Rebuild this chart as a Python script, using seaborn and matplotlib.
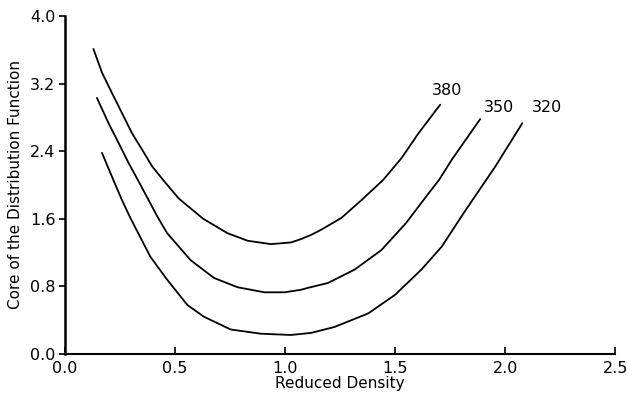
import numpy as np
import pandas as pd
import matplotlib
matplotlib.use("Agg")
import matplotlib.pyplot as plt
import seaborn as sns

# Data
x_380 = [0.129, 0.168, 0.213, 0.259, 0.305, 0.350, 0.396, 0.452, 0.517, 0.540, 0.628, 0.738, 0.830, 0.936,
         1.027, 1.073, 1.119, 1.164, 1.256, 1.347, 1.446, 1.530, 1.606, 1.705]
y_380 = [3.61, 3.33, 3.09, 2.85, 2.61, 2.42, 2.22, 2.04, 1.84, 1.79, 1.60, 1.43, 1.34, 1.30,
         1.32, 1.36, 1.41, 1.47, 1.61, 1.82, 2.06, 2.32, 2.61, 2.95]

x_350 = [0.145, 0.198, 0.243, 0.289, 0.335, 0.380, 0.419, 0.464, 0.571, 0.677, 0.784, 0.906, 0.997,
         1.073, 1.100, 1.195, 1.317, 1.438, 1.550, 1.652, 1.700, 1.758, 1.887]
y_350 = [3.03, 2.73, 2.50, 2.26, 2.04, 1.82, 1.63, 1.43, 1.11, 0.90, 0.79, 0.73, 0.73,
         0.76, 0.78, 0.84, 1.00, 1.23, 1.55, 1.90, 2.06, 2.30, 2.78]

x_320 = [0.168, 0.213, 0.259, 0.297, 0.388, 0.464, 0.556, 0.632, 0.753, 0.890, 1.027, 1.119, 1.225,
         1.378, 1.500, 1.620, 1.712, 1.815, 1.956, 2.078]
y_320 = [2.38, 2.10, 1.82, 1.61, 1.15, 0.88, 0.58, 0.44, 0.29, 0.24, 0.225, 0.25, 0.32,
         0.48, 0.70, 1.00, 1.27, 1.68, 2.22, 2.73]

series_labels = ["380", "350", "320"]
label_pos_x = [1.735, 1.97, 2.19]
label_pos_y = [3.12, 2.92, 2.92]

x_ticks = [0.0, 0.5, 1.0, 1.5, 2.0, 2.5]
y_ticks = [0.0, 0.8, 1.6, 2.4, 3.2, 4.0]

frames = []
for lab, xs, ys in zip(series_labels, [x_380, x_350, x_320], [y_380, y_350, y_320]):
    frames.append(pd.DataFrame({"x": xs, "y": ys, "T": lab}))
df = pd.concat(frames, ignore_index=True)

sns.set_style("ticks")
plt.rcParams["font.family"] = ["DejaVu Sans"]
plt.rcParams["text.color"] = "black"
plt.rcParams["axes.labelcolor"] = "black"
plt.rcParams["xtick.color"] = "black"
plt.rcParams["ytick.color"] = "black"
plt.rcParams["axes.edgecolor"] = "black"

fig = plt.figure(figsize=(6.27, 3.99), dpi=100)
ax = fig.add_axes([0.1037, 0.1128, 0.8773, 0.8472])

sns.lineplot(data=df, x="x", y="y", units="T", estimator=None, sort=False,
             color="black", linewidth=1.3, ax=ax)
for ln in ax.get_lines():
    ln.set_solid_joinstyle("round")
    ln.set_solid_capstyle("round")

for lab, lx, ly in zip(series_labels, label_pos_x, label_pos_y):
    ax.text(lx, ly, lab, ha="center", va="center", fontsize=11.5, color="black")

ax.set_xlim(0.0, 2.5)
ax.set_ylim(0.0, 4.0)
ax.set_xticks(x_ticks)
ax.set_yticks(y_ticks)
ax.set_xticklabels([f"{v:.1f}" for v in x_ticks], fontsize=11.5)
ax.set_yticklabels([f"{v:.1f}" for v in y_ticks], fontsize=11.5)
ax.tick_params(axis="x", direction="in", length=5, width=1.2, pad=5, colors="black")
ax.tick_params(axis="y", direction="out", length=4, width=1.2, pad=3, colors="black")
ax.set_xlabel("Reduced Density", fontsize=11, labelpad=0, color="black")
ax.set_ylabel("Core of the Distribution Function", fontsize=11, labelpad=5, color="black")

for s in ["top", "right"]:
    ax.spines[s].set_visible(False)
ax.spines["left"].set_linewidth(1.8)
ax.spines["bottom"].set_linewidth(1.5)
ax.spines["left"].set_color("black")
ax.spines["bottom"].set_color("black")

fig.savefig("out.png", dpi=100)
